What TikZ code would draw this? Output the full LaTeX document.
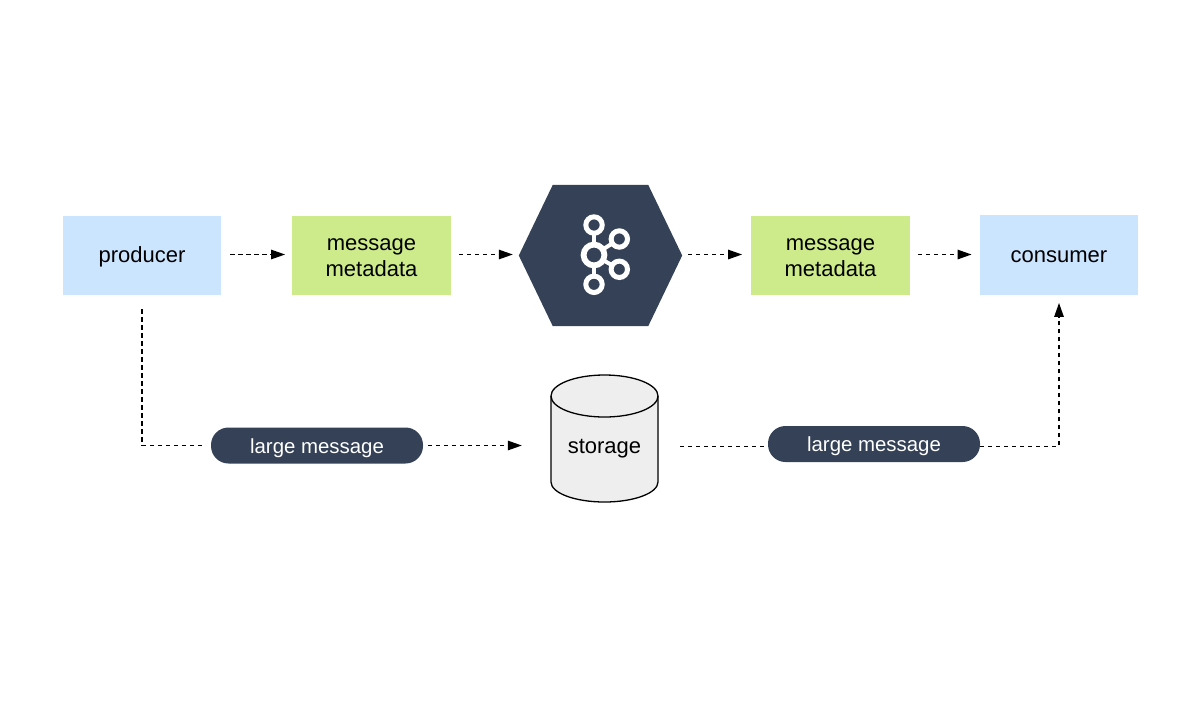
\documentclass[tikz,border=0pt]{standalone}
\usepackage{fontspec}
\setmainfont{Liberation Sans}
\usetikzlibrary{arrows.meta}
\definecolor{bluebox}{HTML}{CCE5FF}
\definecolor{greenbox}{HTML}{CDEB8B}
\definecolor{navy}{HTML}{344156}
\definecolor{cylfill}{HTML}{EEEEEE}
\tikzset{
  every node/.style={font=\fontsize{22}{26}\selectfont, text=black, inner sep=0pt, align=center},
  box/.style={rectangle, minimum width=158.5pt, minimum height=79.5pt},
  bluenode/.style={box, fill=bluebox},
  greennode/.style={box, fill=greenbox},
  pill/.style={rectangle, rounded corners=17.5pt, fill=navy, text=white, font=\fontsize{20.4}{26}\selectfont, minimum width=212pt, minimum height=36pt},
  flow/.style={draw=black, line width=1.3pt, dash pattern=on 4.2pt off 3.8pt},
  tip/.style={-{Triangle[length=14pt,width=9.5pt]}},
  label/.style={yshift=-1pt},
}
\begin{document}
\begin{tikzpicture}[x=1pt,y=-1pt]
\useasboundingbox (0,0) rectangle (1200,710);
\fill[white] (0,0) rectangle (1200,710);

\node[bluenode] (producer) at (142,255.5) {};
\node[label] (producertext) at (producer.center) {producer};
\node[greennode] (meta1) at (371.5,255.5) {};
\node[label,yshift=-1.5pt] (meta1text) at (meta1.center) {message\\metadata};
\node[greennode] (meta2) at (830.5,255.5) {};
\node[label,yshift=-1.5pt] (meta2text) at (meta2.center) {message\\metadata};
\node[bluenode] (consumer) at (1059,255) {};
\node[label,yshift=-1pt] (consumertext) at (consumer.center) {consumer};
\node[minimum width=163pt, minimum height=141pt] (kafka) at (600.5,255.5) {};
\fill[navy] (kafka.west) -- ([xshift=34pt]kafka.north west) -- ([xshift=-34pt]kafka.north east)
  -- (kafka.east) -- ([xshift=-34pt]kafka.south east) -- ([xshift=34pt]kafka.south west) -- cycle;

% Kafka logo
\draw[white, line width=4pt] (594,225) -- (594,284.3);
\draw[white, line width=4pt] (619.3,239) -- (594,255) -- (619.3,269.3);
\filldraw[navy, draw=white, line width=5.8pt] (594,255) circle (10.4pt);
\filldraw[navy, draw=white, line width=5pt] (594,225) circle (8.2pt);
\filldraw[navy, draw=white, line width=5pt] (619.3,239) circle (8.2pt);
\filldraw[navy, draw=white, line width=5pt] (619.3,269.3) circle (8.2pt);
\filldraw[navy, draw=white, line width=5pt] (594,284.3) circle (8.2pt);

% storage cylinder
\filldraw[fill=cylfill, draw=black, line width=1.3pt]
  (551,396) arc[start angle=180, end angle=360, x radius=53.5pt, y radius=-21pt]
  -- (658,482) arc[start angle=0, end angle=180, x radius=53.5pt, y radius=-20pt] -- cycle;
\draw[black, line width=1.3pt] (551,396) arc[start angle=180, end angle=0, x radius=53.5pt, y radius=-21pt];
\node[minimum width=107pt] (storage) at (604.5,448.5) {storage};

\node[pill] (pillA) at (317,445.5) {\raisebox{-7.5pt}[0pt][0pt]{large message}};
\node[pill] (pillB) at (874,444) {\raisebox{-7.5pt}[0pt][0pt]{large message}};

\draw[flow,tip,shorten <=9pt,shorten >=7pt] (producer.east |- 0,254.5) -- (meta1.west |- 0,254.5);
\draw[flow,tip,shorten <=8pt,shorten >=6pt] (meta1.east |- 0,254.5) -- (kafka.west |- 0,254.5);
\draw[flow,tip,shorten <=6pt,shorten >=9pt] (kafka.east |- 0,254.5) -- (meta2.west |- 0,254.5);
\draw[flow,tip,shorten <=8pt,shorten >=8pt] (meta2.east |- 0,254.5) -- (consumer.west |- 0,254.5);
\draw[flow,shorten <=14pt,shorten >=5pt] (producer.south) |- (pillA.west);
\draw[flow,tip,shorten <=5pt,shorten >=29pt] (pillA.east) -- (storage.west |- pillA.east);
\draw[flow] ([xshift=22pt,yshift=-2.5pt]storage.east |- pillB.west) -- ([yshift=-2.5pt]pillB.west);
\draw[flow,tip,shorten >=8pt] ([yshift=-2.5pt]pillB.east) -| (consumer.south);
\end{tikzpicture}
\end{document}
